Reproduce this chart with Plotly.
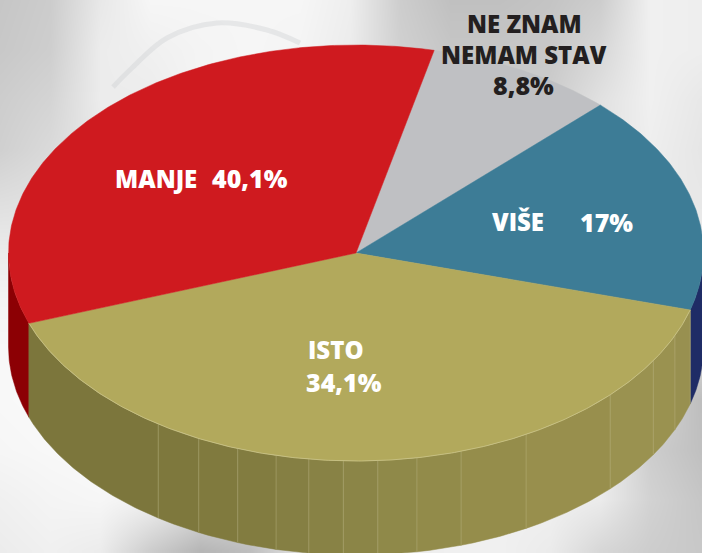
import math
import plotly.graph_objects as go

# Slice sizes as drawn in the picture, clockwise from the first slice
slice_names = ["NE ZNAM", "VIŠE", "ISTO", "MANJE"]
slice_values = [8.8, 17.0, 40.1, 34.1]
slice_colors = ["#bfc0c3", "#3d7c96", "#b2a95c", "#cf1a1f"]
wall_colors = ["#8a8a8c", "#1f2c66", "#8c8648", "#8c0004"]
start_angle = 13.0

# Printed labels
label_texts = ["MANJE", "40,1%", "VIŠE", "17%", "ISTO", "34,1%", "NE ZNAM", "NEMAM STAV", "8,8%"]
label_xs = [156, 250, 518, 606, 336, 344, 524, 524, 523]
label_ys = [178, 178, 221, 222, 349, 382, 23, 54, 85]
label_colors = ["white"] * 6 + ["#231f20"] * 3
label_sizes = [24, 25, 24, 25, 24, 25, 24, 24, 25]

# Facets on the front wall of the olive slice
facet_angles = [250.3, 214.7, 206.9, 199.9, 193.3, 187.8, 182.1, 176.4, 169.9, 162.4, 150.7, 133.0, 121.2, 113.4, 105.9]
facet_colors = ["#7c763c", "#7e783d", "#807a3e", "#827c40", "#857f43", "#888245", "#8b8547",
                "#8f8949", "#928b4a", "#958d4b", "#988f4d", "#9a9250", "#9a9250", "#989050"]

# Background photo, grey levels
bg_x = list(range(0, 750, 50))
bg_y = list(range(0, 600, 50))
bg_z = [
    [198, 204, 232, 246, 246, 246, 246, 238, 205, 192, 192, 196, 205, 240, 238],
    [200, 206, 236, 240, 244, 246, 244, 236, 208, 198, 198, 200, 215, 240, 238],
    [205, 212, 236, 236, 244, 246, 244, 236, 212, 205, 205, 205, 225, 240, 232],
    [208, 218, 232, 236, 244, 246, 244, 236, 212, 205, 205, 210, 228, 238, 230],
    [222, 225, 232, 236, 244, 246, 244, 236, 222, 215, 215, 220, 230, 235, 232],
    [235, 235, 236, 240, 244, 246, 244, 240, 232, 230, 230, 232, 235, 235, 235],
    [244, 244, 244, 244, 244, 244, 244, 240, 236, 236, 236, 236, 236, 236, 236],
    [248, 248, 248, 248, 248, 248, 244, 240, 236, 236, 236, 236, 236, 226, 215],
    [248, 250, 250, 250, 250, 248, 244, 240, 236, 236, 236, 240, 240, 215, 190],
    [246, 248, 250, 250, 246, 244, 244, 240, 236, 236, 236, 240, 240, 205, 192],
    [240, 244, 246, 240, 225, 222, 240, 240, 236, 240, 240, 240, 235, 210, 198],
    [236, 240, 236, 205, 182, 190, 225, 235, 236, 240, 240, 235, 215, 205, 200],
]

cx, cy, rx, ry, depth = 356.0, 253.0, 347.5, 208.0, 94.0


def pt(t, drop=0.0):
    a = math.radians(t)
    return cx + rx * math.sin(a), cy - ry * math.cos(a) + drop


def arc(t0, t1, drop=0.0):
    n = max(2, int(abs(t1 - t0) * 2) + 1)
    pts = [pt(t0 + (t1 - t0) * i / (n - 1), drop) for i in range(n)]
    return [p[0] for p in pts], [p[1] for p in pts]


def poly(xs, ys, color, name):
    return go.Scatter(x=xs, y=ys, mode="lines", fill="toself", fillcolor=color,
                      line=dict(color=color, width=0.5), hoverinfo="skip", name=name)


def wall(t0, t1, color, name):
    x1, y1 = arc(t0, t1)
    x2, y2 = arc(t1, t0, depth)
    return poly(x1 + x2 + x1[:1], y1 + y2 + y1[:1], color, name)


fig = go.Figure()
fig.add_trace(go.Heatmap(x=bg_x, y=bg_y, z=bg_z, zmin=0, zmax=255, zsmooth="best",
                         colorscale=[[0, "rgb(0,0,0)"], [1, "rgb(255,255,255)"]],
                         showscale=False, hoverinfo="skip"))

# Faint ring in the photo
fig.add_trace(go.Scatter(x=[113, 133, 167, 217, 267, 300], y=[87, 67, 38, 23, 30, 43],
                         mode="lines", line=dict(color="rgba(200,203,207,0.35)", width=5, shape="spline"),
                         hoverinfo="skip"))

# Slice angles come from the values
total = sum(slice_values)
bounds = [start_angle]
for v in slice_values:
    bounds.append(bounds[-1] + v / total * 360)

# Walls
fig.add_trace(wall(90, bounds[2], wall_colors[1], "wall " + slice_names[1]))
fig.add_trace(wall(bounds[3], 270, wall_colors[3], "wall " + slice_names[3]))
for i, col in enumerate(facet_colors):
    fig.add_trace(wall(facet_angles[i], facet_angles[i + 1], col, "facet"))
for t in facet_angles[1:]:
    x0, y0 = pt(t)
    fig.add_trace(go.Scatter(x=[x0, x0], y=[y0, y0 + depth], mode="lines",
                             line=dict(color="rgba(190,186,135,0.4)", width=1), hoverinfo="skip"))

# Top of the pie
for i, name in enumerate(slice_names):
    x1, y1 = arc(bounds[i], bounds[i + 1])
    fig.add_trace(poly([cx] + x1 + [cx], [cy] + y1 + [cy], slice_colors[i], name))

# Light rim along the front edge
rx_, ry_ = arc(bounds[2], bounds[3])
fig.add_trace(go.Scatter(x=rx_, y=ry_, mode="lines", line=dict(color="#cfc98f", width=0.7), hoverinfo="skip"))

for txt, x, y, col, sz in zip(label_texts, label_xs, label_ys, label_colors, label_sizes):
    fig.add_annotation(x=x, y=y, text=txt, showarrow=False, xanchor="center", yanchor="middle",
                       font=dict(family="Open Sans", size=sz, color=col, weight=800))

fig.update_layout(width=702, height=553, margin=dict(l=0, r=0, t=0, b=0), showlegend=False,
                  paper_bgcolor="white", plot_bgcolor="white",
                  xaxis=dict(range=[0, 702], visible=False, fixedrange=True),
                  yaxis=dict(range=[553, 0], visible=False, fixedrange=True))
fig.write_html("out.html", config={"displayModeBar": False},
               post_script="document.body.style.margin='0';document.documentElement.style.overflow='hidden';")
